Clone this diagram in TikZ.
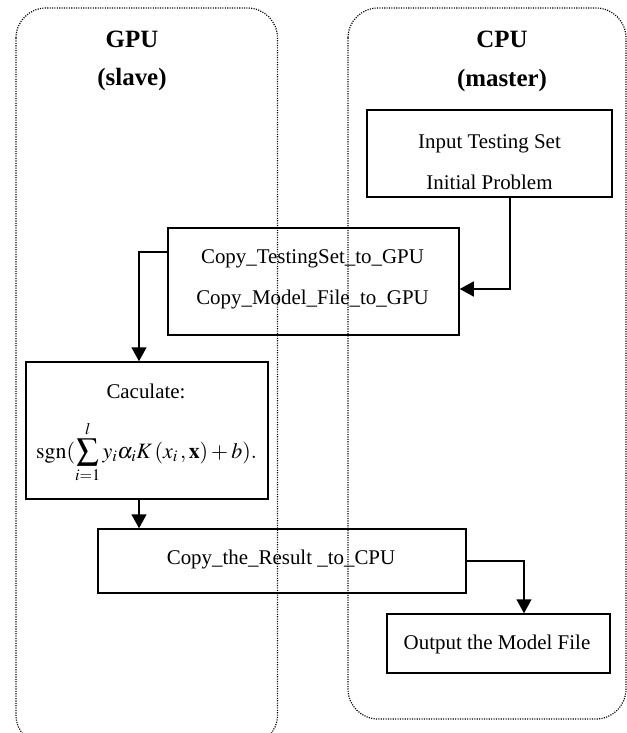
\documentclass[tikz,border=0pt]{standalone}
\usepackage{mathptmx}
\usepackage[no-math]{fontspec}
\setmainfont{Liberation Serif}
\usetikzlibrary{arrows.meta,calc}
\begin{document}
\begin{tikzpicture}[x=1bp,y=-1bp,
  panel/.style={line width=1.2bp, dash pattern=on 1.1bp off 1.3bp, rounded corners=30bp},
  box/.style={draw, line width=1.5bp, inner sep=0pt},
  txt/.style={font=\fontsize{21}{41}\selectfont, align=center, inner sep=0pt, anchor=base},
  hdr/.style={font=\fontsize{25}{30}\selectfont\bfseries, inner sep=0pt, anchor=base},
  arr/.style={line width=1.5bp, -{Triangle[length=14bp,width=15bp]}}]
\useasboundingbox (0,0) rectangle (627,733);
\clip (0,0) rectangle (627,733);
% panels
\draw[panel] (16,8) rectangle (277.5,745);
\draw[panel] (348,8) rectangle (626,719);
% headers
\node[hdr] (gpu) at (132,48) {GPU};
\node[hdr] (slave) at (132,86) {(slave)};
\node[hdr] (cpu) at (502,48) {CPU};
\node[hdr] (master) at (502,87) {(master)};
% boxes
\node[box, minimum width=245bp, minimum height=87bp] (in) at (489.5,153.5) {};
\node[txt] (intext) at (489.5,189) {Input Testing Set\\Initial Problem};
\node[box, minimum width=291bp, minimum height=107bp] (cp) at (313.5,281.5) {};
\node[txt] (cptext) at (312.5,304) {Copy\_TestingSet\_to\_GPU\\Copy\_Model\_File\_to\_GPU};
\node[box, minimum width=242bp, minimum height=137bp] (calc) at (147,430.5) {};
\node[txt] (calctext) at (146,398) {Caculate:};
\node[inner sep=0pt, anchor=base, font=\fontsize{22}{26}\selectfont] (formula) at (146.5,458)
  {$\displaystyle \mathrm{sgn}(\sum_{i=1}^{l} y_i\alpha_i K\,(x_i\,,\mathbf{x})+b).$};
\node[box, minimum width=368bp, minimum height=64bp] (res) at (282,561) {};
\node[txt] (restext) at (281,564) {Copy\_the\_Result \_to\_CPU};
\node[box, minimum width=223bp, minimum height=59bp] (out) at (498.5,643.5) {};
\node[txt] (outtext) at (497,649) {Output the Model File};
% connectors
\draw[arr] ([xshift=20.5bp]in.south) |- ([yshift=-7.5bp]cp.east);
\draw[arr] ([yshift=29.5bp]cp.west) -| ([xshift=-8bp]calc.north);
\draw[arr] ([xshift=-8bp]calc.south) -- ([xshift=-8bp]calc.south |- res.north);
\draw[arr] (res.east) -| ([xshift=25.5bp]out.north);
\end{tikzpicture}
\end{document}
